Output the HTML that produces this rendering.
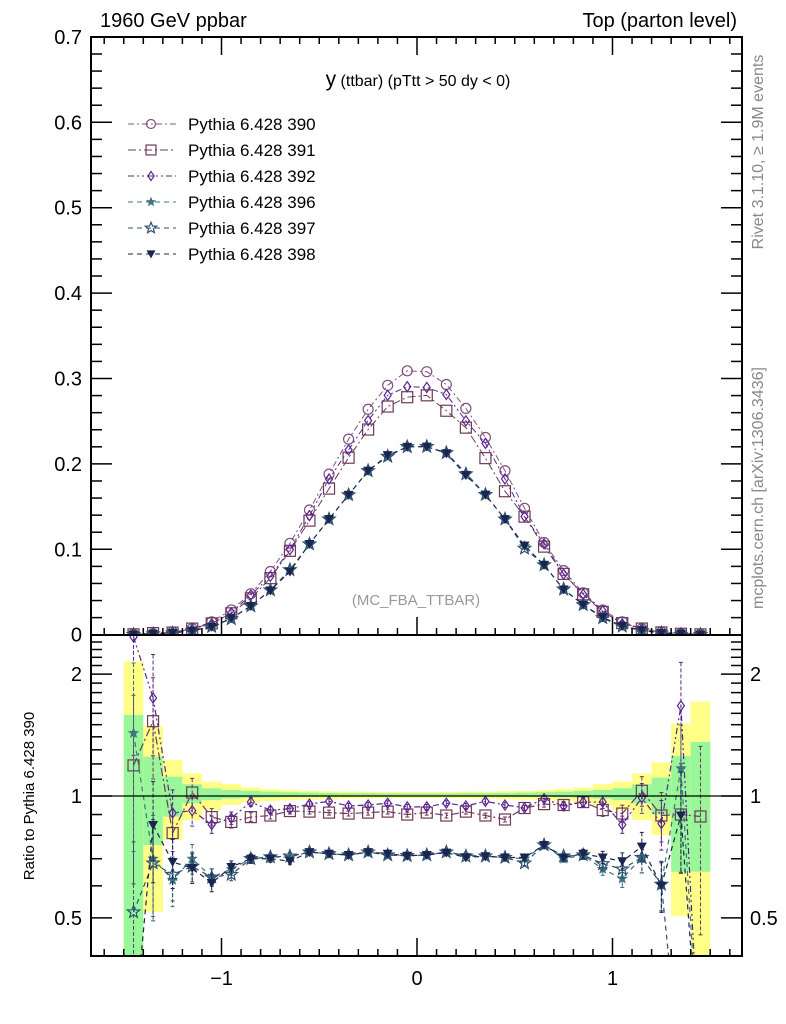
<!DOCTYPE html>
<html><head><meta charset="utf-8"><style>
html,body{margin:0;padding:0;background:#fff;overflow:hidden;width:786px;height:1024px}
svg{display:block}
svg text{font-family:"Liberation Sans",sans-serif}
</style></head><body>
<svg id="chart" width="786" height="1024" xmlns="http://www.w3.org/2000/svg">
<defs>
<clipPath id="clipMain"><rect x="91" y="37" width="651" height="598"/></clipPath>
<clipPath id="clipRatio"><rect x="91" y="635" width="651" height="321"/></clipPath>
</defs>
<g id="bands" clip-path="url(#clipRatio)"></g>
<g id="series"></g>
<g id="axes"></g>
<text x="100" y="27" font-size="20">1960 GeV ppbar</text>
<text x="737" y="27" font-size="20" text-anchor="end">Top (parton level)</text>
<text x="418" y="86" text-anchor="middle"><tspan font-size="21">y</tspan><tspan font-size="16"> (ttbar) (pTtt &gt; 50 dy &lt; 0)</tspan></text>
<text x="416" y="605" text-anchor="middle" font-size="15" fill="#999">(MC_FBA_TTBAR)</text>
<text transform="translate(763,152) rotate(-90)" text-anchor="middle" font-size="16" fill="#888">Rivet 3.1.10, ≥ 1.9M events</text>
<text transform="translate(763,488) rotate(-90)" text-anchor="middle" font-size="16" fill="#888">mcplots.cern.ch [arXiv:1306.3436]</text>
<text transform="translate(34,796) rotate(-90)" text-anchor="middle" font-size="15">Ratio to Pythia 6.428 390</text>
<g id="legend"></g>
</svg>
<script>
const xCenters=[-1.45,-1.35,-1.25,-1.15,-1.05,-0.95,-0.85,-0.75,-0.65,-0.55,-0.45,-0.35,-0.25,-0.15,-0.05,0.05,0.15,0.25,0.35,0.45,0.55,0.65,0.75,0.85,0.95,1.05,1.15,1.25,1.35,1.45];
const mc390=[0.0004,0.0012,0.003,0.007,0.015,0.029,0.048,0.074,0.107,0.146,0.188,0.229,0.264,0.292,0.309,0.308,0.293,0.265,0.231,0.192,0.148,0.108,0.075,0.049,0.029,0.015,0.007,0.003,0.0012,0.0004];
const r391=[1.19,1.53,0.81,1.02,0.887,0.863,0.887,0.895,0.918,0.915,0.91,0.905,0.91,0.915,0.90,0.91,0.895,0.915,0.895,0.875,0.934,0.955,0.95,0.966,0.923,0.905,1.03,0.895,0.9,0.89];
const r392=[2.47,1.746,0.908,0.92,0.85,0.882,0.966,0.923,0.93,0.955,0.97,0.945,0.95,0.96,0.94,0.94,0.96,0.945,0.97,0.95,0.935,0.985,0.945,0.966,0.966,0.85,0.99,0.855,1.67,0.2];
const r396=[1.43,0.70,0.62,0.70,0.63,0.66,0.70,0.707,0.707,0.727,0.72,0.715,0.727,0.715,0.712,0.715,0.727,0.715,0.71,0.705,0.70,0.757,0.70,0.715,0.66,0.625,0.705,0.605,1.17,0.2];
const r397=[0.517,0.683,0.64,0.67,0.63,0.64,0.70,0.707,0.71,0.727,0.72,0.715,0.727,0.715,0.712,0.715,0.727,0.71,0.71,0.705,0.683,0.757,0.71,0.715,0.68,0.66,0.705,0.605,0.2,0.2];
const r398=[0.25,0.848,0.687,0.664,0.61,0.668,0.70,0.70,0.69,0.727,0.72,0.715,0.727,0.72,0.712,0.715,0.725,0.705,0.71,0.705,0.705,0.757,0.705,0.72,0.705,0.69,0.75,0.6,0.895,0.2];
const errRel=[0.35,0.2,0.1,0.06,0.035,0.025,0.018,0.014,0.012,0.01,0.01,0.01,0.01,0.01,0.01,0.01,0.01,0.01,0.01,0.01,0.01,0.012,0.014,0.018,0.025,0.035,0.06,0.1,0.2,0.35];
const yellowHi=[2.15,1.49,1.227,1.137,1.085,1.07,1.05,1.04,1.035,1.03,1.028,1.025,1.024,1.022,1.022,1.022,1.022,1.024,1.025,1.028,1.03,1.035,1.04,1.05,1.07,1.085,1.137,1.21,1.51,1.71];
const yellowLo=[0.3,0.517,0.779,0.872,0.923,0.95,0.965,0.972,0.978,0.98,0.982,0.985,0.986,0.988,0.988,0.988,0.988,0.986,0.985,0.982,0.98,0.978,0.972,0.965,0.95,0.923,0.872,0.80,0.505,0.3];
const greenHi=[1.585,1.25,1.116,1.069,1.045,1.035,1.03,1.025,1.022,1.02,1.018,1.016,1.016,1.015,1.015,1.015,1.015,1.016,1.016,1.018,1.02,1.022,1.025,1.03,1.035,1.045,1.069,1.11,1.255,1.36];
const greenLo=[0.3,0.757,0.889,0.959,0.977,0.985,0.99,0.992,0.994,0.995,0.996,0.996,0.997,0.997,0.997,0.997,0.997,0.997,0.996,0.996,0.995,0.994,0.992,0.99,0.985,0.977,0.959,0.9,0.65,0.65];
const mainTicks=[0,0.1,0.2,0.3,0.4,0.5,0.6,0.7];
const mainTickLabels=["0","0.1","0.2","0.3","0.4","0.5","0.6","0.7"];
const ratioTicks=[0.5,1,2];
const ratioTickLabels=["0.5","1","2"];
const xTicks=[-1,0,1];
const xTickLabels=["−1","0","1"];

const NS="http://www.w3.org/2000/svg";
const L=91,R=742,T=37,MB=635,RB=956;
const X=v=>417+v*195.5;
const Ym=v=>634.7-v*854;
const Yr=v=>796-405*Math.log10(v);
function mk(tag,attrs,parent){const e=document.createElementNS(NS,tag);for(const k in attrs)e.setAttribute(k,attrs[k]);parent.appendChild(e);return e;}

const bands=document.getElementById('bands');
xCenters.forEach((c,i)=>{
  const x0=X(c-0.05),x1=X(c+0.05);
  const y=mk('rect',{x:x0,y:Yr(yellowHi[i]),width:x1-x0,height:Yr(yellowLo[i])-Yr(yellowHi[i]),fill:'#ffff88'},bands);
  
  
  const g=mk('rect',{x:x0,y:Yr(greenHi[i]),width:x1-x0,height:Yr(greenLo[i])-Yr(greenHi[i]),fill:'#99f799'},bands);
  
  
});

const seriesDefs=[
 {id:'390',r:null,color:'#7f5080',dash:'6 3 2 3',marker:'circle'},
 {id:'391',r:r391,color:'#6e3858',dash:'8 3 2 3',marker:'square'},
 {id:'392',r:r392,color:'#5a2490',dash:'6 3 2 3 2 3',marker:'diamond'},
 {id:'396',r:r396,color:'#3f7580',dash:'5 4',marker:'fstar'},
 {id:'397',r:r397,color:'#2f5070',dash:'5 4',marker:'ostar'},
 {id:'398',r:r398,color:'#1a2550',dash:'5 4',marker:'tri'}
];
function starPts(cx,cy,ro,ri){let p=[];for(let k=0;k<10;k++){const a=-Math.PI/2+k*Math.PI/5;const r=k%2?ri:ro;p.push((cx+r*Math.cos(a)).toFixed(1)+','+(cy+r*Math.sin(a)).toFixed(1));}return p.join(' ');}
function marker(type,cx,cy,color,parent,s){
  s=s||1;let e;
  if(type==='circle')e=mk('circle',{cx,cy,r:5*s,fill:'none',stroke:color,'stroke-width':1.2},parent);
  else if(type==='square')e=mk('rect',{x:cx-5.5*s,y:cy-5.5*s,width:11*s,height:11*s,fill:'none',stroke:color,'stroke-width':1.2},parent);
  else if(type==='diamond')e=mk('polygon',{points:`${cx},${cy-5*s} ${cx+3.5*s},${cy} ${cx},${cy+5*s} ${cx-3.5*s},${cy}`,fill:'none',stroke:color,'stroke-width':1.2},parent);
  else if(type==='fstar')e=mk('polygon',{points:starPts(cx,cy,6*s,2.6*s),fill:color},parent);
  else if(type==='ostar')e=mk('polygon',{points:starPts(cx,cy,6.5*s,2.8*s),fill:'none',stroke:color,'stroke-width':1.2},parent);
  else e=mk('polygon',{points:`${cx-5*s},${cy-4*s} ${cx+5*s},${cy-4*s} ${cx},${cy+5*s}`,fill:color},parent);
  return e;
}
const sl=document.getElementById('series');
const gm=mk('g',{'clip-path':'url(#clipMain)'},sl);
const gr=mk('g',{'clip-path':'url(#clipRatio)'},sl);
seriesDefs.forEach(sd=>{
  const ratio=xCenters.map((c,i)=>sd.r?sd.r[i]:1);
  const vals=mc390.map((v,i)=>v*ratio[i]);
  const g1=mk('g',{},gm);
  
  
  const pl=mk('polyline',{points:xCenters.map((c,i)=>X(c)+','+Ym(vals[i])).join(' '),fill:'none',stroke:sd.color,'stroke-width':1,'stroke-dasharray':sd.dash},g1);
  
  
  xCenters.forEach((c,i)=>{const m=marker(sd.marker,X(c),Ym(vals[i]),sd.color,g1);
    
    });
  if(sd.r){
    const g2=mk('g',{},gr);
    
    
    const pr=mk('polyline',{points:xCenters.map((c,i)=>X(c)+','+Yr(ratio[i])).join(' '),fill:'none',stroke:sd.color,'stroke-width':1.2,'stroke-dasharray':sd.dash},g2);
    
    
    xCenters.forEach((c,i)=>{
      const e=errRel[i]*ratio[i]*1.4;
      const x=X(c);
      const eb=mk('path',{d:`M${x},${Yr(ratio[i]+e)}V${Yr(Math.max(ratio[i]-e,0.05))}M${x-2},${Yr(ratio[i]+e)}h4M${x-2},${Yr(Math.max(ratio[i]-e,0.05))}h4`,stroke:sd.color,'stroke-width':1,'stroke-dasharray':errRel[i]>0.05?'4 2':'none',fill:'none'},g2);
      
      
      const m=marker(sd.marker,x,Yr(ratio[i]),sd.color,g2);
      
      
    });
  }
});

const ax=document.getElementById('axes');
const line=(x1,y1,x2,y2,w)=>mk('line',{x1,y1,x2,y2,stroke:'#000','stroke-width':w||1.5},ax);
const one=line(L,Yr(1),R,Yr(1),1.2);


const f1=mk('rect',{x:L,y:T,width:R-L,height:MB-T,fill:'none',stroke:'#000','stroke-width':2},ax);


const f2=mk('rect',{x:L,y:MB,width:R-L,height:RB-MB,fill:'none',stroke:'#000','stroke-width':2},ax);


for(let k=0;k<=35;k++){const v=k*0.02;const y=Ym(v);const maj=k%5===0;const len=maj?21:11;line(L,y,L+len,y);line(R,y,R-len,y);}
mainTicks.forEach((v,i)=>{const t=mk('text',{x:82,y:Ym(v)+7,'font-size':20,'text-anchor':'end'},ax);t.textContent=mainTickLabels[i];
  
  });
for(let k=-16;k<=16;k++){const v=k*0.1;const x=X(v);if(x<L||x>R)continue;const maj=k%10===0;
  line(x,T,x,T+(maj?18:7));line(x,MB,x,MB-(maj?18:7));line(x,RB,x,RB-(maj?18:7));}
xTicks.forEach((v,i)=>{const t=mk('text',{x:X(v),y:985,'font-size':20,'text-anchor':'middle'},ax);t.textContent=xTickLabels[i];
  
  });
[0.4,0.5,0.6,0.7,0.8,0.9,1,1.1,1.2,1.3,1.4,1.5,1.6,1.7,1.8,1.9,2,2.1,2.2,2.3,2.4,2.5].forEach(v=>{const y=Yr(v);if(y<MB||y>RB)return;const maj=(v===0.5||v===1||v===2);const len=maj?21:11;line(L,y,L+len,y);line(R,y,R-len,y);});
ratioTicks.forEach((v,i)=>{
  const t=mk('text',{x:82,y:Yr(v)+7,'font-size':20,'text-anchor':'end'},ax);t.textContent=ratioTickLabels[i];
  
  
  const t2=mk('text',{x:750,y:Yr(v)+7,'font-size':20},ax);t2.textContent=ratioTickLabels[i];
  
  
});

const lg=document.getElementById('legend');
seriesDefs.forEach((sd,i)=>{
  const y=124+i*26;
  const g=mk('g',{},lg);
  
  
  mk('line',{x1:128,y1:y,x2:176,y2:y,stroke:sd.color,'stroke-width':1,'stroke-dasharray':sd.dash},g);
  marker(sd.marker,151,y,sd.color,g,0.9);
  const t=mk('text',{x:188,y:y+6,'font-size':17},g);t.textContent='Pythia 6.428 '+sd.id;
});
</script>
</body></html>
